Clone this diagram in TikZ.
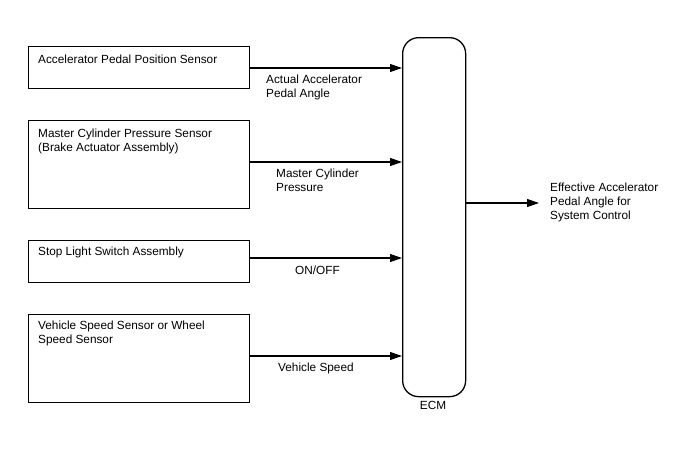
\documentclass[tikz,border=0pt]{standalone}
\usepackage{fontspec}
\setmainfont{Liberation Sans}
\usetikzlibrary{arrows.meta}
\begin{document}
\begin{tikzpicture}[x=1pt,y=-1pt,
  box/.style={draw,line width=1.3pt,minimum width=221pt,anchor=north west,inner sep=0pt},
  txt/.style={font=\fontsize{11.8}{14}\selectfont,align=left,anchor=north west,inner sep=0pt},
  conn/.style={line width=1.1pt,-{Triangle[length=12pt,width=8pt]}}]
\useasboundingbox (0,0) rectangle (688,463);
\node[box,minimum height=42pt] (b1) at (28,46) {};
\node[box,minimum height=88pt] (b2) at (28,120) {};
\node[box,minimum height=42pt] (b3) at (28,240) {};
\node[box,minimum height=88pt] (b4) at (28,314) {};
\node[draw,line width=1.3pt,rounded corners=16pt,minimum width=63pt,minimum height=359pt,anchor=north west,inner sep=0pt] (ecm) at (402,37) {};
\node[txt] (t1) at (38,54.5) {Accelerator Pedal Position Sensor};
\node[txt] (t2) at (38,128.5) {Master Cylinder Pressure Sensor\\(Brake Actuator Assembly)};
\node[txt] (t3) at (38,246.5) {Stop Light Switch Assembly};
\node[txt] (t4) at (38,320.5) {Vehicle Speed Sensor or Wheel\\Speed Sensor};
\coordinate (e1) at (402,68);
\coordinate (e2) at (402,162);
\coordinate (e3) at (402,258);
\coordinate (e4) at (402,356);
\draw[conn] (b1.east |- e1) -- (e1);
\draw[conn] (b2.east |- e2) -- (e2);
\draw[conn] (b3.east |- e3) -- (e3);
\draw[conn] (b4.east |- e4) -- (e4);
\coordinate (out) at (539,203);
\draw[conn] (ecm.east |- out) -- (out);
\node[txt] (l1) at (266,74.5) {Actual Accelerator\\Pedal Angle};
\node[txt] (l2) at (276,168.5) {Master Cylinder\\Pressure};
\node[txt] (l3) at (295,265.5) {ON/OFF};
\node[txt] (l4) at (278,362.5) {Vehicle Speed};
\node[txt,anchor=north] (l5) at (433,401.5) {ECM};
\node[txt] (l6) at (550,182.5) {Effective Accelerator\\Pedal Angle for\\System Control};
\end{tikzpicture}
\end{document}
